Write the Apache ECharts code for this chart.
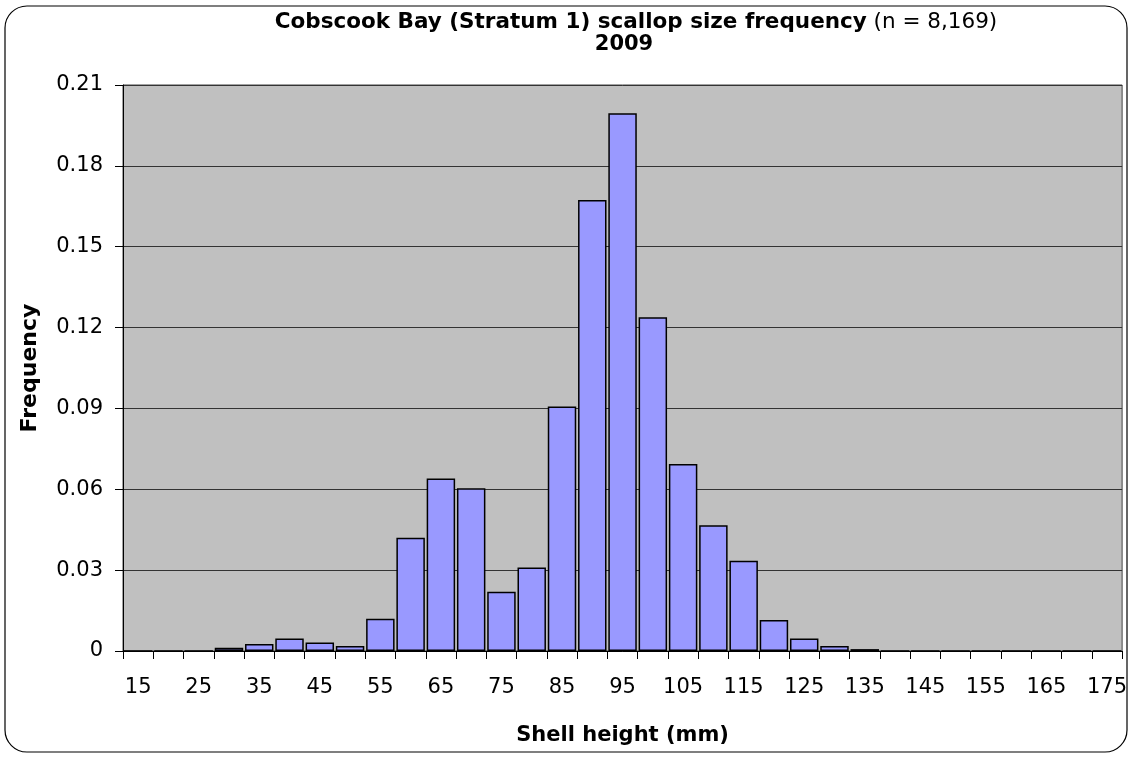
<!DOCTYPE html>
<html>
<head>
<meta charset="utf-8">
<script src="https://cdn.jsdelivr.net/npm/echarts@6/dist/echarts.min.js"></script>
<style>
html,body{margin:0;padding:0;background:#fff;}
#c{width:1130px;height:757px;}
</style>
</head>
<body>
<div id="c"></div>
<script>
const categories = ['15','20','25','30','35','40','45','50','55','60','65','70','75','80','85','90','95','100','105','110','115','120','125','130','135','140','145','150','155','160','165','170','175'];
const frequency = [0,0,0,0.0012,0.0026,0.0046,0.0032,0.0019,0.012,0.042,0.064,0.0604,0.022,0.031,0.0907,0.1673,0.1995,0.1238,0.0694,0.0467,0.0335,0.0115,0.0046,0.0019,0.0007,0,0,0,0,0,0,0,0];
const yTicks = {min:0, max:0.21, interval:0.03};
const titleBold = 'Cobscook Bay (Stratum 1) scallop size frequency';
const titleNormal = ' (n = 8,169)';
const subTitle = '2009';

const font = '"DejaVu Sans", "Liberation Sans", Arial, sans-serif';
const chart = echarts.init(document.getElementById('c'), null, {renderer:'canvas'});
chart.setOption({
  animation:false,
  backgroundColor:'#fff',
  title:[
    {text:'{b|'+titleBold+'}{n|'+titleNormal+'}', left:631, top:6, textAlign:'center',
     textStyle:{rich:{b:{fontFamily:font,fontWeight:'bold',fontSize:21.5,color:'#000'},n:{fontFamily:font,fontWeight:'normal',fontSize:21.5,color:'#000'}}}},
    {text:subTitle, left:619, top:29, textAlign:'center',
     textStyle:{fontFamily:font,fontWeight:'bold',fontSize:21,color:'#000'}}
  ],
  graphic:[{type:'rect', shape:{x:5,y:6,width:1122,height:746,r:22}, style:{fill:'none',stroke:'#000',lineWidth:1.2}, z:-10}],
  grid:{left:123,right:7,top:85,bottom:106,show:true,backgroundColor:'#C0C0C0',borderColor:'#444',borderWidth:1},
  xAxis:{
    type:'category', data:categories,
    name:'Shell height (mm)', nameLocation:'middle', nameGap:74,
    nameTextStyle:{fontFamily:font,fontWeight:'bold',fontSize:21,color:'#000'},
    axisLine:{lineStyle:{color:'#000',width:1}},
    axisTick:{show:true,interval:0,length:8,lineStyle:{color:'#000'}},
    axisLabel:{interval:1,margin:26,fontFamily:font,fontSize:21,color:'#000'}
  },
  yAxis:{
    type:'value', min:yTicks.min, max:yTicks.max, interval:yTicks.interval,
    name:'Frequency', nameLocation:'middle', nameGap:82, nameRotate:90,
    nameTextStyle:{fontFamily:font,fontWeight:'bold',fontSize:22,color:'#000'},
    axisLine:{show:true,lineStyle:{color:'#000',width:1}},
    axisTick:{show:true,length:8,lineStyle:{color:'#000'}},
    axisLabel:{margin:20,fontFamily:font,fontSize:21,color:'#000',formatter:v=>v===0?'0':String(+v.toFixed(2))},
    splitLine:{show:true,lineStyle:{color:'#333',width:1}}
  },
  series:[{
    type:'bar', data:frequency, barCategoryGap:'6%',
    itemStyle:{color:'#9999FF',borderColor:'#000',borderWidth:1.5}
  }]
});
</script>
</body>
</html>
